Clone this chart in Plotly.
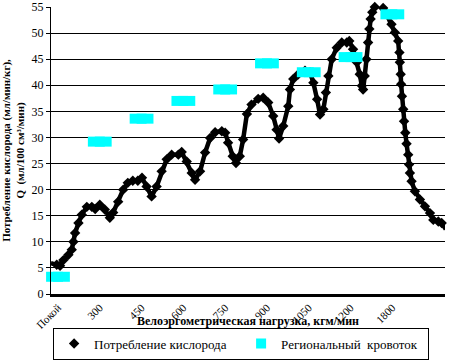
import plotly.graph_objects as go

# Stage positions (0 = Покой, 1 = 300, ... 8 = 1800)
tick_labels = ["Покой", "300", "450", "600", "750", "900", "1050", "1200", "1800"]
tick_pos = [0, 1, 2, 3, 4, 5, 6, 7, 8]

# Oxygen consumption curve (stage position, value)
o2_x = [-0.17, -0.03, 0.05, 0.13, 0.25, 0.33, 0.37, 0.41, 0.49, 0.57, 0.69, 0.81, 0.89, 1.00,
        1.12, 1.24, 1.32, 1.44, 1.56, 1.67, 1.79, 1.91, 2.01, 2.12, 2.24, 2.36, 2.48, 2.60,
        2.72, 2.88, 2.96, 3.08, 3.20, 3.28, 3.40, 3.52, 3.64, 3.76, 3.92, 4.00, 4.07, 4.18,
        4.26, 4.35, 4.43, 4.52, 4.63, 4.79, 4.91, 5.03, 5.15, 5.23, 5.29, 5.39, 5.51, 5.55,
        5.63, 5.75, 5.91, 6.03, 6.11, 6.20, 6.27, 6.35, 6.41, 6.47, 6.55, 6.67, 6.79, 6.91,
        6.97, 7.06, 7.15, 7.22, 7.27, 7.30, 7.34, 7.38, 7.42, 7.45, 7.48, 7.52, 7.58, 7.66,
        7.78, 7.86, 7.98, 8.06, 8.14, 8.17, 8.18, 8.20, 8.21, 8.23, 8.26, 8.28, 8.31, 8.34,
        8.38, 8.40, 8.42, 8.46, 8.54, 8.66, 8.78, 8.90, 8.98, 9.10, 9.18, 9.28]
o2_y = [5.9, 5.6, 5.4, 6.5, 7.5, 8.5, 10.0, 11.7, 13.6, 15.2, 16.7, 16.7, 16.3, 17.1,
        16.2, 14.6, 15.6, 17.7, 20.0, 21.3, 21.7, 21.7, 22.3, 20.6, 18.7, 20.6, 23.5, 25.8,
        26.7, 26.7, 27.2, 25.4, 23.2, 21.9, 23.5, 27.1, 29.9, 31.0, 31.2, 30.9, 29.0, 26.4,
        25.1, 26.4, 29.6, 34.5, 36.3, 37.4, 37.6, 36.7, 34.1, 31.5, 29.8, 32.2, 36.0, 39.2,
        41.2, 42.1, 42.8, 42.5, 40.5, 37.3, 34.4, 35.4, 38.6, 41.8, 45.0, 47.2, 48.2, 48.2,
        48.5, 46.9, 44.4, 42.1, 39.9, 39.2, 41.8, 45.0, 48.2, 50.8, 52.7, 54.0, 55.0, 55.3,
        54.8, 53.7, 51.7, 50.1, 48.5, 46.3, 44.4, 42.1, 40.2, 37.9, 35.4, 33.1, 30.9, 28.8,
        26.7, 24.8, 23.2, 21.6, 19.7, 18.1, 16.8, 15.5, 14.2, 13.9, 13.6, 12.4]

# Regional blood flow
flow_x = [0, 1, 2, 3, 4, 5, 6, 7, 8]
flow_y = [3.3, 29.2, 33.6, 37.0, 39.2, 44.2, 42.5, 45.4, 53.6]

FONT = "Liberation Serif"
CYAN = "#00FFFF"

fig = go.Figure()
# connecting line of the oxygen curve (no legend entry)
fig.add_trace(go.Scatter(
    x=o2_x, y=o2_y, mode="lines", showlegend=False, hoverinfo="skip",
    line=dict(color="black", width=4.5), cliponaxis=False,
))
# oxygen curve markers
fig.add_trace(go.Scatter(
    x=o2_x, y=o2_y, mode="markers", name="Потребление кислорода",
    marker=dict(symbol="diamond", size=8, color="black"),
    cliponaxis=False,
))
# blood flow: square markers (legend entry), covered by the wider bars
fig.add_trace(go.Scatter(
    x=flow_x, y=flow_y, mode="markers", name="Региональный  кровоток",
    marker=dict(symbol="square", size=10, color=CYAN, line=dict(width=0)),
    cliponaxis=False,
))
fig.add_trace(go.Scatter(
    x=flow_x, y=flow_y, mode="markers", showlegend=False, hoverinfo="skip",
    marker=dict(symbol="line-ew", size=17, color=CYAN,
                line=dict(color=CYAN, width=10)),
    cliponaxis=False,
))

fig.update_layout(
    width=450, height=361,
    margin=dict(l=51, r=5, t=7, b=67, autoexpand=False),
    paper_bgcolor="white", plot_bgcolor="white",
    font=dict(family=FONT, size=12, color="black"),
    showlegend=True,
    legend=dict(
        orientation="h", xref="container", yref="container",
        x=0.118, y=0.004, xanchor="left", yanchor="bottom",
        bordercolor="black", borderwidth=1, bgcolor="rgba(0,0,0,0)",
        font=dict(family=FONT, size=13),
        itemwidth=30, tracegroupgap=0, entrywidth=142,
    ),
    xaxis=dict(
        range=[-0.167, 9.26], tickmode="array", tickvals=tick_pos, ticktext=tick_labels,
        tickangle=-45, tickfont=dict(family=FONT, size=11), showgrid=False,
        showline=True, linecolor="black", linewidth=3, zeroline=False, ticks="",
        automargin=False,
        title=dict(text="<b>Велоэргометрическая нагрузка, кгм/мин</b>",
                   font=dict(family=FONT, size=12), standoff=4),
    ),
    yaxis=dict(
        range=[0, 55], tickmode="array", tickvals=list(range(0, 56, 5)),
        tickfont=dict(family=FONT, size=12), showgrid=True, gridcolor="black", gridwidth=1,
        showline=True, linecolor="black", linewidth=1, zeroline=False,
        ticks="outside", ticklen=4, tickcolor="black", automargin=False,
        title=dict(text="<b>Потребление кислорода (мл/мин/кг),<br>Q  (мл/100 см³/мин)</b>",
                   font=dict(family=FONT, size=11), standoff=6),
    ),
)

fig.write_html("out.html", config={"displayModeBar": False},
               post_script="document.body.style.margin='0';")
